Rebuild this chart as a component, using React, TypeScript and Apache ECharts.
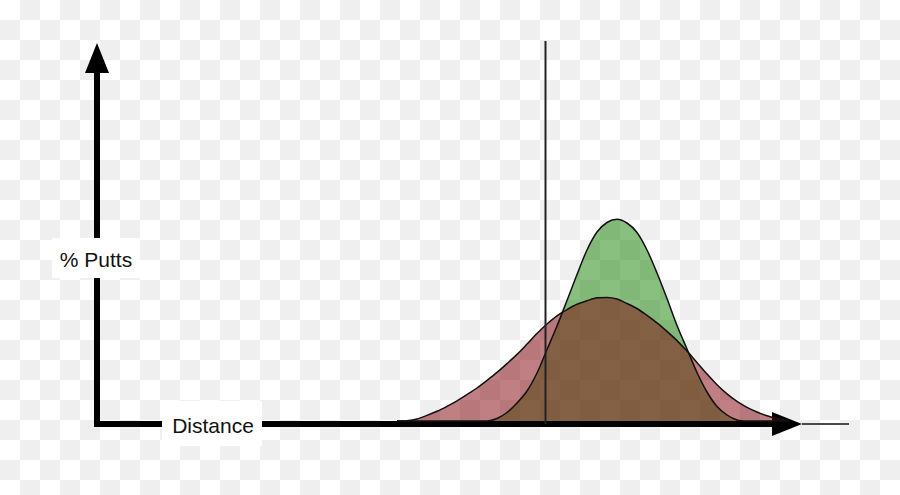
import { useEffect, useRef } from "react";
import * as echarts from "echarts";

// distance steps (arbitrary units, 1 unit = one step along the x axis)
const distance = [
  30, 31, 32, 33, 34, 35, 36, 37, 38, 39, 40, 41, 42, 43, 44, 45, 46, 47, 48, 49,
  50, 51, 52, 53, 54, 55, 56, 57, 58, 59, 60, 61, 62, 63, 64, 65, 66, 67, 68, 69, 70,
];

// wide (red) distribution
const redPutts = [
  0, 0.03, 0.2, 0.56, 0.97, 1.47, 2.01, 2.64, 3.3, 4.06, 4.86, 5.74, 6.66, 7.69,
  8.75, 9.7, 10.52, 11.14, 11.67, 12.02, 12.32, 12.35, 12.2, 11.75, 11.25, 10.57,
  9.82, 8.96, 8.04, 6.99, 5.85, 4.7, 3.62, 2.71, 1.96, 1.37, 0.9, 0.52, 0.25, 0.08, 0,
];

// narrow (green) distribution
const greenPutts = [
  0, 0, 0, 0, 0, 0, 0, 0, 0, 0, 0.25, 0.85, 1.8, 3.0, 4.8, 7.15, 9.5, 12.05,
  14.65, 17.1, 18.9, 19.85, 20.17, 19.8, 18.85, 17.1, 14.8, 12.25, 9.55, 7.2,
  4.85, 2.9, 1.45, 0.6, 0.1, 0, 0, 0, 0, 0, 0,
];

const cutoff = 44.85;
const cutoffTop = 38;
const axisMin = { x: 0, y: -0.3 };
const axisMax = { x: 69, y: 36.3 };

const FONT = '"Liberation Sans", Arial, Helvetica, sans-serif';

export default function App() {
  const chartRef = useRef<HTMLDivElement>(null);

  useEffect(() => {
    if (!chartRef.current) return;
    const chart = echarts.init(chartRef.current, undefined, { renderer: "svg" });

    const axisLine = {
      show: true,
      onZero: false,
      symbol: ["none", "triangle"],
      symbolSize: [24, 30],
      lineStyle: { color: "#000", width: 6, cap: "square" },
    };

    chart.setOption({
      animation: false,
      grid: { left: 97, right: 113, top: 58, bottom: 71 },
      xAxis: {
        type: "value",
        min: axisMin.x,
        max: axisMax.x,
        axisLine,
        axisTick: { show: false },
        axisLabel: { show: false },
        splitLine: { show: false },
      },
      yAxis: {
        type: "value",
        min: axisMin.y,
        max: axisMax.y,
        axisLine,
        axisTick: { show: false },
        axisLabel: { show: false },
        splitLine: { show: false },
      },
      series: [
        {
          name: "green",
          type: "line",
          smooth: 0.3,
          symbol: "none",
          data: distance.map((d, i) => [d, greenPutts[i]]),
          lineStyle: { color: "#111", width: 1.5 },
          areaStyle: { color: "rgba(19,129,1,0.5)", opacity: 1 },
        },
        {
          name: "red",
          type: "line",
          smooth: 0.3,
          symbol: "none",
          data: distance.map((d, i) => [d, redPutts[i]]),
          lineStyle: { color: "#111", width: 1.5 },
          areaStyle: { color: "rgba(128,0,8,0.5)", opacity: 1 },
        },
        {
          name: "cutoff",
          type: "line",
          symbol: "none",
          clip: false,
          data: [
            [cutoff, axisMin.y],
            [cutoff, cutoffTop],
          ],
          lineStyle: { color: "#222", width: 2 },
        },
      ],
      graphic: [
        {
          // thin continuation of the baseline past the arrow head
          type: "line",
          z: 1,
          shape: { x1: 802, y1: 424, x2: 849, y2: 424 },
          style: { stroke: "#111", lineWidth: 1.5 },
        },
        {
          type: "rect",
          z: 100,
          shape: { x: 52, y: 238, width: 88, height: 40 },
          style: { fill: "#fff" },
        },
        {
          type: "text",
          z: 101,
          x: 96,
          y: 259,
          style: {
            text: "% Putts",
            fill: "#111",
            fontSize: 21,
            fontFamily: FONT,
            align: "center",
            verticalAlign: "middle",
          },
        },
        {
          type: "rect",
          z: 100,
          shape: { x: 162, y: 401, width: 100, height: 45 },
          style: { fill: "#fff" },
        },
        {
          type: "text",
          z: 101,
          x: 213,
          y: 425,
          style: {
            text: "Distance",
            fill: "#111",
            fontSize: 21,
            fontFamily: FONT,
            align: "center",
            verticalAlign: "middle",
          },
        },
      ],
    });

    return () => {
      chart.dispose();
    };
  }, []);

  return (
    <div
      ref={chartRef}
      style={{
        position: "fixed",
        left: 0,
        top: 0,
        width: 900,
        height: 495,
        backgroundColor: "#fff",
        backgroundImage:
          "conic-gradient(#efefef 25%, transparent 0 50%, #efefef 0 75%, transparent 0)",
        backgroundSize: "40px 40px",
      }}
    />
  );
}
